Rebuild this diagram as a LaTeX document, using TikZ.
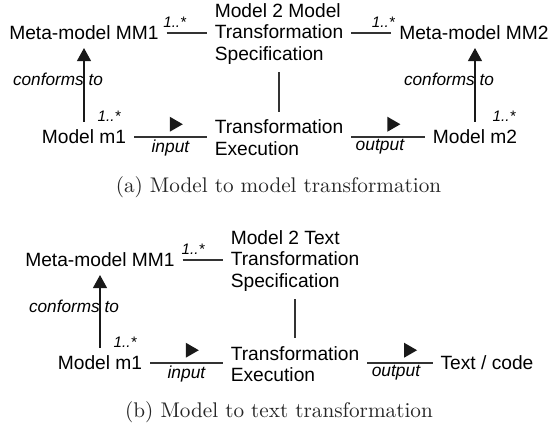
\documentclass[tikz,border=0pt]{standalone}
\usepackage{fontspec}
\usepackage{tikz}
\usetikzlibrary{arrows.meta,positioning,shapes.geometric}
\newfontfamily\diagsf{Liberation Sans}
\tikzset{
  trEntity/.style={font=\fontsize{9.6}{10.65}\diagsf, align=left, inner sep=4pt, outer sep=0pt},
  trLine/.style={draw=black!80, line width=0.6pt},
  trArrow/.style={draw=black!90, line width=0.6pt, -{Triangle[width=7pt,length=6.5pt]}},
  trMarker/.style={isosceles triangle, isosceles triangle stretches, fill=black!90, draw=none, minimum width=7.5pt, minimum height=6.5pt, inner sep=0pt, above=3.5pt},
  trMult/.style={font=\fontsize{7.6}{8}\diagsf\itshape, inner sep=1pt},
  trRole/.style={font=\fontsize{8.7}{9}\diagsf\itshape, inner sep=1pt, below},
  trConform/.style={font=\fontsize{8.6}{9}\diagsf\itshape, inner sep=0pt}
}
\begin{document}
\begin{tikzpicture}[x=0.5pt, y=-0.5pt,
        trCaption/.style={font=\fontsize{10.6}{12}\selectfont, text=black!85, inner sep=0pt}
      ]
      \useasboundingbox (0,0) rectangle (548,428);

      % (a) model to model
      \node[trEntity] (metaA) at (84,33) {Meta-model MM1};
      \node[trEntity] (specA) at (279,34) {Model 2 Model\\Transformation\\Specification};
      \node[trEntity] (metaB) at (474,33) {Meta-model MM2};
      \node[trEntity] (modelA) at (84,137) {Model m1};
      \node[trEntity] (execA) at (279,137.5) {Transformation\\Execution};
      \node[trEntity] (modelB) at (475,137) {Model m2};

      \draw[trLine] (metaA) -- (metaA -| specA.west) node[trMult, pos=0.2, above=1.5pt] {1..*};
      \draw[trLine] (specA.east |- metaB) -- (metaB) node[trMult, pos=0.8, above=1.5pt] {1..*};
      \draw[trLine] (specA) -- (execA);
      \draw[trLine] (modelA) -- (modelA -| execA.west)
        node[trMarker, pos=0.55] {} node[trRole, midway] {input};
      \draw[trLine] (execA.east |- modelB) -- (modelB)
        node[trMarker, pos=0.55] {} node[trRole, pos=0.39] {output};
      \draw[trArrow] (modelA) -- (metaA)
        node[trMult, pos=0, above right={-1pt and 5.5pt}] {1..*}
        node[trConform, pos=0.58, xshift=-13pt] {conforms to};
      \draw[trArrow] (modelB) -- (modelB |- metaB.south)
        node[trMult, pos=0, above right={-1pt and 7.5pt}] {1..*}
        node[trConform, pos=0.58, xshift=-13pt] {conforms to};

      \node[trCaption] (capA) at (278.5,187) {(a) Model to model transformation};

      % (b) model to text
      \node[trEntity] (metaC) at (100,260) {Meta-model MM1};
      \node[trEntity] (specC) at (295,261) {Model 2 Text\\Transformation\\Specification};
      \node[trEntity] (modelC) at (100,363) {Model m1};
      \node[trEntity] (execC) at (295,364) {Transformation\\Execution};
      \node[trEntity] (textC) at (487,363) {Text / code};

      \draw[trLine] (metaC) -- (metaC -| specC.west) node[trMult, pos=0.26, above=1.5pt] {1..*};
      \draw[trLine] (specC) -- (execC);
      \draw[trLine] (modelC) -- (modelC -| execC.west)
        node[trMarker, pos=0.55] {} node[trRole, midway] {input};
      \draw[trLine] (execC.east |- textC) -- (textC)
        node[trMarker, pos=0.63] {} node[trRole, pos=0.44] {output};
      \draw[trArrow] (modelC) -- (metaC)
        node[trMult, pos=0, above right={-1pt and 5.5pt}] {1..*}
        node[trConform, pos=0.57, xshift=-13pt] {conforms to};

      \node[trCaption] (capB) at (279,412) {(b) Model to text transformation};
    \end{tikzpicture}
\end{document}
